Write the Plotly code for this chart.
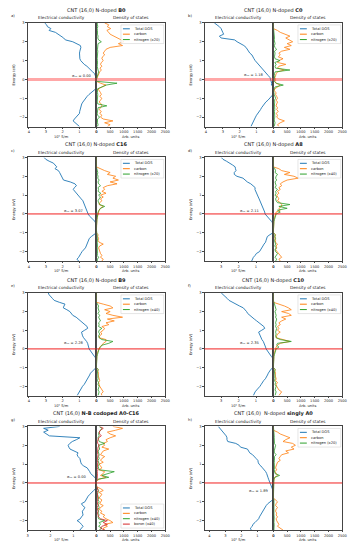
import plotly.graph_objects as go

# ---------------- data ----------------
E = [-2.5, -2.4, -2.3, -2.2, -2.1, -2.0, -1.9, -1.8, -1.7, -1.6,
     -1.5, -1.4, -1.3, -1.2, -1.1, -1.0, -0.9, -0.8, -0.7, -0.6,
     -0.5, -0.4, -0.3, -0.2, -0.1, 0.0, 0.1, 0.2, 0.3, 0.4,
     0.5, 0.6, 0.7, 0.8, 0.9, 1.0, 1.1, 1.2, 1.3, 1.4,
     1.5, 1.6, 1.7, 1.8, 1.9, 2.0, 2.1, 2.2, 2.3, 2.4,
     2.5, 2.6, 2.7, 2.8, 2.9, 3.0]

panel_letters = ["a)", "b)", "c)", "d)", "e)", "f)", "g)", "h)"]
panel_titles = ["CNT (16,0) N-doped <b>B0</b>", "CNT (16,0) N-doped <b>C0</b>",
                "CNT (16,0) N-doped <b>C16</b>", "CNT (16,0) N-doped <b>A8</b>",
                "CNT (16,0) N-doped <b>B9</b>", "CNT (16,0) N-doped <b>C10</b>",
                "CNT (16,0) <b>N-B codoped A0-C16</b>", "CNT (16,0)  N-doped <b>singly A0</b>"]
sigma_values = ["0.00", "1.18", "3.07", "2.11", "2.28", "2.35", "0.00", "1.89"]
sigma_pos_x = [0.9, 1.16, 1.37, 1.35, 1.37, 1.35, 0.86, 0.9]
sigma_pos_y = [0.17, 0.26, 0.14, 0.16, 0.3, 0.3, 0.3, -0.44]
nitrogen_scale = ["x20", "x20", "x20", "x40", "x40", "x40", "x40", "x20"]
cond_max = [4.08, 4.08, 4.08, 3.96, 4.08, 3.96, 3.0, 4.3]
cond_ticks = [[0, 1, 2, 3, 4], [0, 1, 2, 3, 4], [0, 1, 2, 3, 4], [0, 1, 2, 3],
              [0, 1, 2, 3, 4], [0, 1, 2, 3], [0, 1, 2, 3], [0, 1, 2, 3, 4]]
dos_ticks = [0, 500, 1000, 1500, 2000, 2500]
energy_ticks = [-2, -1, 0, 1, 2, 3]

sigma_a = [1.0, 1.15, 1.28, 1.38, 1.3, 1.2, 1.08, 1.0, 0.99, 0.97,
           0.95, 0.92, 0.87, 0.8, 0.73, 0.66, 0.55, 0.44, 0.32, 0.18,
           0.04, 0.0, 0.03, 0.0, 0.0, 0.0, 0.0, 0.06, 0.1, 0.22,
           0.32, 0.43, 0.56, 0.72, 0.86, 0.93, 0.98, 1.0, 1.0, 1.0,
           0.98, 0.95, 0.92, 0.95, 1.15, 1.4, 1.84, 1.94, 2.1, 2.25,
           2.43, 2.8, 2.7, 2.9, 2.95, 3.07]
sigma_b = [1.33, 1.28, 1.22, 1.2, 1.12, 1.06, 1.0, 0.92, 0.8, 0.76,
           0.7, 0.62, 0.55, 0.45, 0.32, 0.2, 0.1, 0.02, 0.0, 0.02,
           0.05, 0.0, 0.12, 0.1, 0.12, 0.14, 0.2, 0.3, 0.4, 0.5,
           0.62, 0.7, 0.8, 0.92, 1.0, 1.08, 1.15, 1.22, 1.27, 1.4,
           1.47, 1.5, 1.62, 1.75, 2.0, 2.15, 2.3, 3.1, 3.2, 2.95,
           3.0, 3.05, 3.1, 3.2, 3.35, 3.5]
sigma_c = [1.05, 1.15, 1.05, 1.0, 0.92, 0.85, 0.72, 0.65, 0.6, 0.55,
           0.5, 0.47, 0.42, 0.3, 0.15, 0.0, 0.0, 0.0, 0.0, 0.0,
           0.04, 0.08, 0.2, 0.3, 0.42, 0.49, 0.54, 0.58, 0.63, 0.67,
           0.7, 0.75, 0.8, 0.9, 1.0, 1.08, 1.18, 1.3, 1.37, 1.3,
           1.18, 1.27, 1.55, 1.95, 2.0, 2.05, 2.12, 2.18, 2.25, 2.45,
           2.35, 2.45, 2.55, 2.8, 3.0, 3.1]
sigma_d = [1.25, 1.2, 1.15, 1.05, 0.98, 0.8, 0.72, 0.67, 0.6, 0.54,
           0.45, 0.42, 0.4, 0.35, 0.2, 0.02, 0.0, 0.0, 0.0, 0.0,
           0.03, 0.1, 0.19, 0.28, 0.37, 0.48, 0.5, 0.54, 0.58, 0.62,
           0.68, 0.72, 0.77, 0.82, 0.87, 0.92, 0.96, 1.0, 1.06, 1.05,
           1.15, 1.3, 1.5, 1.62, 1.75, 2.1, 2.25, 2.25, 2.15, 2.18,
           2.2, 2.35, 2.5, 2.7, 2.9, 3.0]
sigma_e = [1.14, 1.08, 1.04, 0.98, 0.9, 0.82, 0.72, 0.65, 0.56, 0.5,
           0.46, 0.4, 0.35, 0.25, 0.15, 0.02, 0.0, 0.0, 0.0, 0.0,
           0.03, 0.12, 0.2, 0.28, 0.36, 0.43, 0.46, 0.48, 0.52, 0.58,
           0.68, 0.76, 0.82, 0.86, 0.88, 0.7, 0.52, 0.55, 0.68, 0.85,
           0.98, 1.1, 1.2, 1.4, 1.5, 1.57, 1.75, 1.96, 1.92, 1.86,
           2.2, 2.5, 2.6, 2.72, 2.8, 2.85]
sigma_f = [1.15, 1.12, 1.05, 0.96, 0.85, 0.77, 0.7, 0.64, 0.56, 0.46,
           0.38, 0.34, 0.29, 0.22, 0.15, 0.02, 0.0, 0.0, 0.0, 0.0,
           0.03, 0.12, 0.2, 0.27, 0.35, 0.42, 0.45, 0.48, 0.52, 0.58,
           0.66, 0.72, 0.77, 0.82, 0.85, 0.67, 0.5, 0.55, 0.67, 0.8,
           0.96, 1.1, 1.25, 1.4, 1.48, 1.54, 1.65, 1.73, 1.95, 2.15,
           2.3, 2.55, 2.65, 2.75, 2.85, 3.0]
sigma_g = [0.72, 0.65, 0.58, 0.65, 0.72, 0.84, 0.7, 0.65, 0.58, 0.6,
           0.61, 0.55, 0.5, 0.6, 0.65, 0.5, 0.46, 0.42, 0.36, 0.28,
           0.22, 0.12, 0.03, 0.0, 0.0, 0.0, 0.0, 0.02, 0.07, 0.18,
           0.25, 0.29, 0.34, 0.4, 0.55, 0.65, 0.68, 0.7, 0.72, 0.8,
           0.84, 0.8, 0.95, 1.15, 1.2, 1.23, 1.16, 1.05, 0.87, 0.72,
           2.05, 2.2, 2.3, 2.1, 2.3, 1.6]
sigma_h = [1.38, 1.44, 1.32, 1.28, 1.15, 1.03, 0.92, 0.87, 0.8, 0.74,
           0.67, 0.62, 0.56, 0.45, 0.35, 0.2, 0.05, 0.0, 0.0, 0.0,
           0.0, 0.02, 0.07, 0.12, 0.2, 0.25, 0.27, 0.3, 0.34, 0.37,
           0.42, 0.48, 0.56, 0.68, 0.78, 0.9, 0.95, 0.97, 1.08, 1.18,
           1.3, 1.48, 1.55, 1.62, 2.05, 2.14, 2.35, 2.85, 2.9, 2.9,
           2.95, 3.05, 3.15, 3.24, 3.35, 3.44]

carbon_a = [400, 500, 300, 600, 250, 150, 200, 120, 180, 100,
            150, 200, 180, 100, 150, 200, 120, 180, 150, 120,
            60, 200, 350, 150, 0, 0, 30, 50, 80, 120,
            180, 130, 200, 150, 180, 250, 200, 220, 300, 250,
            300, 350, 500, 950, 800, 1000, 900, 750, 650, 500,
            450, 380, 520, 400, 450, 300]
nitrogen_a = [40, 60, 40, 50, 40, 120, 40, 30, 40, 50,
              60, 380, 50, 30, 40, 30, 40, 50, 40, 40,
              40, 200, 350, 750, 0, 0, 20, 30, 40, 80,
              60, 40, 30, 40, 50, 40, 30, 40, 30, 40,
              50, 40, 40, 40, 60, 180, 80, 50, 60, 40,
              50, 40, 30, 50, 40, 30]
carbon_b = [200, 150, 250, 400, 200, 120, 150, 100, 180, 120,
            150, 100, 120, 150, 100, 150, 120, 80, 100, 30,
            50, 150, 250, 100, 60, 80, 50, 80, 100, 150,
            400, 150, 200, 450, 150, 200, 350, 180, 250, 200,
            300, 600, 400, 650, 500, 700, 550, 450, 600, 400,
            250, 150, 0, 0, 0, 0]
nitrogen_b = [30, 40, 60, 40, 30, 50, 40, 30, 40, 50,
              40, 30, 40, 50, 40, 80, 40, 30, 20, 10,
              30, 60, 360, 100, 30, 40, 30, 50, 40, 60,
              600, 80, 60, 100, 50, 240, 60, 40, 50, 60,
              40, 120, 50, 40, 60, 40, 30, 40, 30, 20,
              10, 0, 0, 0, 0, 0]
carbon_c = [200, 250, 150, 200, 150, 120, 100, 80, 120, 250,
            100, 60, 80, 50, 60, 0, 0, 0, 0, 0,
            0, 10, 20, 30, 50, 60, 80, 100, 150, 250,
            100, 120, 200, 150, 250, 150, 350, 200, 300, 250,
            400, 750, 500, 800, 600, 700, 400, 500, 300, 150,
            0, 0, 0, 0, 0, 0]
nitrogen_c = [30, 40, 80, 30, 40, 30, 40, 30, 40, 30,
              30, 40, 30, 20, 30, 0, 0, 0, 0, 0,
              0, 10, 20, 30, 40, 50, 60, 100, 150, 300,
              120, 80, 60, 100, 150, 80, 160, 60, 80, 60,
              150, 80, 60, 100, 50, 60, 40, 50, 30, 20,
              0, 0, 0, 0, 0, 0]
carbon_d = [250, 200, 300, 250, 200, 150, 80, 120, 100, 150,
            70, 80, 50, 60, 80, 0, 0, 0, 0, 0,
            0, 10, 20, 40, 60, 80, 100, 250, 200, 300,
            300, 250, 150, 200, 150, 120, 200, 150, 250, 200,
            300, 250, 350, 500, 900, 750, 400, 600, 300, 200,
            0, 0, 0, 0, 0, 0]
nitrogen_d = [80, 120, 60, 100, 150, 80, 60, 100, 50, 80,
              60, 40, 80, 50, 60, 0, 0, 0, 0, 0,
              0, 20, 40, 60, 80, 100, 250, 150, 500, 200,
              600, 150, 100, 80, 120, 60, 100, 80, 150, 60,
              100, 80, 60, 120, 80, 100, 150, 60, 80, 50,
              0, 0, 0, 0, 0, 0]
carbon_e = [200, 180, 250, 200, 150, 120, 100, 80, 120, 100,
            80, 60, 80, 50, 60, 0, 0, 0, 0, 0,
            0, 10, 20, 40, 60, 100, 120, 200, 250, 350,
            350, 100, 120, 200, 150, 250, 300, 200, 450, 350,
            650, 400, 950, 600, 350, 500, 300, 600, 500, 250,
            0, 0, 0, 0, 0, 0]
nitrogen_e = [60, 80, 100, 60, 80, 100, 60, 80, 40, 60,
              50, 60, 40, 50, 60, 0, 0, 0, 0, 0,
              0, 20, 40, 60, 80, 100, 150, 200, 450, 600,
              200, 100, 80, 120, 80, 100, 200, 80, 100, 80,
              150, 100, 80, 120, 60, 100, 80, 60, 80, 40,
              0, 0, 0, 0, 0, 0]
carbon_f = [200, 250, 300, 200, 150, 120, 100, 150, 80, 100,
            80, 60, 80, 50, 60, 0, 0, 0, 0, 0,
            0, 10, 20, 40, 60, 80, 100, 150, 250, 600,
            300, 100, 120, 150, 250, 150, 200, 150, 250, 200,
            300, 450, 300, 650, 550, 300, 650, 550, 400, 150,
            0, 0, 0, 0, 0, 0]
nitrogen_f = [60, 80, 100, 60, 80, 100, 60, 80, 40, 60,
              50, 60, 40, 50, 60, 0, 0, 0, 0, 0,
              0, 20, 40, 60, 80, 100, 200, 120, 150, 650,
              250, 100, 80, 100, 80, 100, 120, 80, 100, 80,
              100, 120, 80, 100, 80, 60, 100, 80, 60, 40,
              0, 0, 0, 0, 0, 0]
carbon_g = [300, 250, 400, 300, 600, 500, 350, 250, 300, 150,
            200, 100, 150, 250, 120, 150, 200, 100, 150, 200,
            100, 250, 150, 0, 0, 0, 0, 100, 350, 150,
            250, 300, 100, 200, 150, 100, 250, 150, 200, 300,
            150, 200, 250, 450, 200, 300, 250, 400, 350, 500,
            700, 500, 400, 700, 950, 600]
nitrogen_g = [100, 200, 80, 150, 100, 300, 80, 60, 100, 60,
              80, 60, 100, 80, 60, 100, 60, 80, 60, 40,
              60, 80, 40, 0, 0, 0, 0, 60, 450, 200,
              400, 650, 100, 80, 60, 100, 80, 60, 100, 80,
              100, 80, 60, 120, 100, 80, 300, 100, 80, 60,
              100, 80, 100, 150, 200, 100]
boron_g = [300, 150, 200, 400, 250, 400, 150, 80, 60, 40,
           60, 40, 30, 60, 40, 30, 50, 40, 30, 40,
           30, 60, 40, 0, 0, 0, 0, 30, 40, 30,
           40, 30, 60, 30, 40, 30, 50, 30, 40, 30,
           60, 40, 50, 40, 60, 100, 50, 40, 60, 80,
           180, 120, 100, 150, 250, 120]
carbon_h = [350, 250, 150, 200, 150, 120, 100, 150, 100, 120,
            80, 100, 150, 80, 100, 150, 80, 0, 0, 0,
            0, 0, 0, 0, 0, 0, 10, 30, 50, 150,
            100, 60, 120, 80, 100, 120, 150, 250, 200, 250,
            300, 550, 450, 750, 650, 800, 700, 350, 450, 600,
            400, 250, 150, 0, 0, 0]
nitrogen_h = [20, 30, 20, 30, 20, 30, 20, 30, 20, 20,
              30, 20, 30, 20, 30, 20, 20, 0, 0, 0,
              0, 0, 0, 0, 0, 0, 10, 20, 50, 225,
              60, 40, 30, 40, 30, 40, 30, 40, 30, 40,
              100, 40, 30, 40, 50, 80, 40, 30, 40, 30,
              30, 20, 10, 0, 0, 0]

sigmas = [sigma_a, sigma_b, sigma_c, sigma_d, sigma_e, sigma_f, sigma_g, sigma_h]
carbons = [carbon_a, carbon_b, carbon_c, carbon_d, carbon_e, carbon_f, carbon_g, carbon_h]
nitrogens = [nitrogen_a, nitrogen_b, nitrogen_c, nitrogen_d, nitrogen_e, nitrogen_f, nitrogen_g, nitrogen_h]
borons = [None, None, None, None, None, None, boron_g, None]

# ---------------- style / layout ----------------
W, H = 360, 550
BLUE, ORANGE, GREEN, RED = "#1f77b4", "#ff7f0e", "#2ca02c", "#d62728"
FONT = "DejaVu Sans"
TXT = "#222222"
rows_px = [(21, 125), (156, 260), (292, 395), (426, 530)]
cols_px = [(27, 97, 167), (207, 277, 347)]


def fx(p):
    return p / W


def fy(p):
    return 1 - p / H


def label(text, x, y, size, **kw):
    d = dict(text=text, xref="paper", yref="paper", x=fx(x), y=fy(y), showarrow=False,
             xanchor="center", yanchor="middle",
             font=dict(size=size, family=FONT, color=TXT))
    d.update(kw)
    return d


fig = go.Figure()
layout = {}
shapes = []
annotations = []

for i in range(8):
    r, c = divmod(i, 2)
    top, bot = rows_px[r]
    left, mid, right = cols_px[c]
    nc, nd = 2 * i + 1, 2 * i + 2
    sc = "" if nc == 1 else str(nc)
    sd = str(nd)
    ydom = [fy(bot), fy(top)]
    axis_common = dict(showline=True, mirror=True, linecolor="#444", linewidth=0.6,
                       ticks="outside", ticklen=1.5, tickwidth=0.5, tickcolor="#444",
                       tickfont=dict(size=3.6, family=FONT, color=TXT),
                       showgrid=False, zeroline=False, fixedrange=True)
    layout["xaxis" + sc] = dict(axis_common, domain=[fx(left), fx(mid)], anchor="y" + sc,
                                range=[cond_max[i], 0], tickvals=cond_ticks[i])
    layout["yaxis" + sc] = dict(axis_common, domain=ydom, anchor="x" + sc,
                                range=[-2.5, 3], tickvals=energy_ticks)
    layout["xaxis" + sd] = dict(axis_common, domain=[fx(mid), fx(right)], anchor="y" + sd,
                                range=[0, 2500], tickvals=dos_ticks)
    layout["yaxis" + sd] = dict(axis_common, domain=ydom, anchor="x" + sd,
                                range=[-2.5, 3], matches="y" + sc,
                                showticklabels=False, ticks="")

    # data traces
    fig.add_trace(go.Scatter(x=sigmas[i], y=E, mode="lines", line=dict(color=BLUE, width=0.9),
                             xaxis="x" + sc, yaxis="y" + sc, showlegend=False))
    fig.add_trace(go.Scatter(x=carbons[i], y=E, mode="lines", line=dict(color=ORANGE, width=0.8),
                             xaxis="x" + sd, yaxis="y" + sd, showlegend=False))
    fig.add_trace(go.Scatter(x=nitrogens[i], y=E, mode="lines", line=dict(color=GREEN, width=0.8),
                             xaxis="x" + sd, yaxis="y" + sd, showlegend=False))
    if borons[i] is not None:
        fig.add_trace(go.Scatter(x=borons[i], y=E, mode="lines", line=dict(color=RED, width=0.8),
                                 xaxis="x" + sd, yaxis="y" + sd, showlegend=False))

    # Fermi level line across both subplots
    if i < 2:
        fermi = dict(color="rgba(255,60,60,0.45)", width=3)
    else:
        fermi = dict(color="rgba(240,20,20,0.95)", width=1)
    shapes.append(dict(type="line", xref="paper", yref="y" + sc, x0=fx(left), x1=fx(right),
                       y0=0, y1=0, line=fermi, layer="above"))
    # divider at DOS zero
    shapes.append(dict(type="line", xref="x" + sd, yref="y" + sd + " domain", x0=0, x1=0,
                       y0=0, y1=1, line=dict(color="#555", width=1.1), layer="above"))

    # texts
    annotations.append(label(panel_titles[i], mid, top - 12.5, 5.0))
    annotations.append(label("Electrical conductivity", (left + mid) / 2, top - 5, 4.2))
    annotations.append(label("Density of states", (mid + right) / 2, top - 5, 4.2))
    annotations.append(label(panel_letters[i], left - 15, top - 7, 3.8))
    annotations.append(label("Energy (eV)", left - 14, (top + bot) / 2, 3.6, textangle=-90))
    annotations.append(label("10⁵ S/m", (left + mid) / 2, bot + 10, 3.6))
    annotations.append(label("Arb. units", (mid + right) / 2, bot + 10, 3.6))
    annotations.append(dict(text="σₓₓ = " + sigma_values[i], xref="x" + sc, yref="y" + sc,
                            x=sigma_pos_x[i], y=sigma_pos_y[i], showarrow=False,
                            xanchor="center", yanchor="middle",
                            font=dict(size=3.6, family=FONT, color=TXT)))

    # legend box (manual, matplotlib style)
    items = [("Total DOS", BLUE), ("carbon", ORANGE),
             ("nitrogen (" + nitrogen_scale[i] + ")", GREEN)]
    if borons[i] is not None:
        items.append(("boron (x40)", RED))
    n_items = len(items)
    step = 5.4
    bw_left, bw_right = mid + 25, right - 1.5
    if borons[i] is None:
        btop = top + 2
    else:
        btop = bot - 2 - n_items * step - 2.5
    bbot = btop + n_items * step + 2.5
    shapes.append(dict(type="rect", xref="paper", yref="paper",
                       x0=fx(bw_left), x1=fx(bw_right), y0=fy(bbot), y1=fy(btop),
                       fillcolor="rgba(255,255,255,0.85)", line=dict(color="#cccccc", width=0.5),
                       layer="above"))
    for k, (name, col) in enumerate(items):
        yc = btop + 3.9 + k * step
        shapes.append(dict(type="line", xref="paper", yref="paper",
                           x0=fx(bw_left + 2), x1=fx(bw_left + 9), y0=fy(yc), y1=fy(yc),
                           line=dict(color=col, width=1), layer="above"))
        annotations.append(label(name, bw_left + 11, yc, 3.6, xanchor="left"))

fig.update_layout(**layout)
fig.update_layout(width=W, height=H, margin=dict(l=0, r=0, t=0, b=0),
                  paper_bgcolor="white", plot_bgcolor="white", showlegend=False,
                  shapes=shapes, annotations=annotations,
                  font=dict(family=FONT, color=TXT))
fig.write_html("out.html", config={"displayModeBar": False},
               post_script="document.body.style.margin='0';document.body.style.padding='0';")
